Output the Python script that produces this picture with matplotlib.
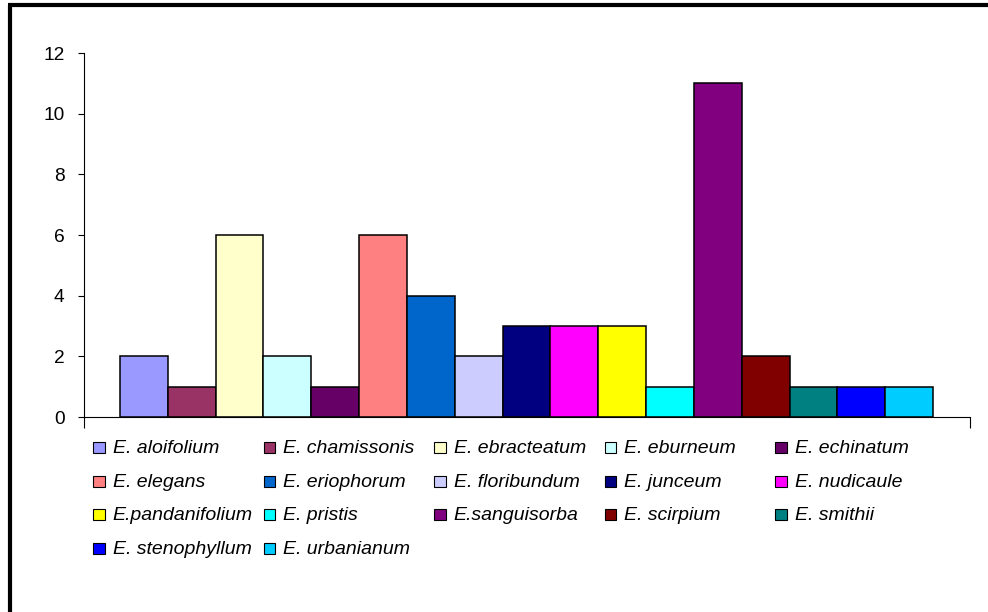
import matplotlib
matplotlib.use('Agg')
import matplotlib.pyplot as plt
from matplotlib.patches import Rectangle
import numpy as np

species = ['E. aloifolium', 'E. chamissonis', 'E. ebracteatum', 'E. eburneum', 'E. echinatum',
           'E. elegans', 'E. eriophorum', 'E. floribundum', 'E. junceum', 'E. nudicaule',
           'E.pandanifolium', 'E. pristis', 'E.sanguisorba', 'E. scirpium', 'E. smithii',
           'E. stenophyllum', 'E. urbanianum']
counts = [2, 1, 6, 2, 1, 6, 4, 2, 3, 3, 3, 1, 11, 2, 1, 1, 1]
colors = ['#9999FF', '#993366', '#FFFFCC', '#CCFFFF', '#660066', '#FF8080', '#0066CC',
          '#CCCCFF', '#000080', '#FF00FF', '#FFFF00', '#00FFFF', '#800080', '#800000',
          '#008080', '#0000FF', '#00CCFF']
y_ticks = [0, 2, 4, 6, 8, 10, 12]

W, H = 988, 612
plt.rcParams['font.family'] = 'Liberation Sans'


def fx(px):
    return px / W


def fy(py):
    return 1 - py / H


fig = plt.figure(figsize=(W / 100, H / 100), dpi=100)
ax = fig.add_axes([fx(84), fy(417), fx(970) - fx(84), fy(53) - fy(417)])

x = np.arange(len(counts))
ax.bar(x, counts, width=1.0, color=colors, edgecolor='black', linewidth=1.1)

ax.set_xlim(-0.5 - 0.75, len(counts) - 0.5 + 0.77)
ax.set_ylim(0, 12)
ax.set_yticks(y_ticks)
ax.set_xticks(ax.get_xlim())
ax.set_xticklabels([])
ax.tick_params(axis='x', length=8, width=0.8, direction='out')
ax.tick_params(axis='y', length=4.5, width=0.8, direction='out', pad=9.5, labelsize=13.8)
for s in ['top', 'right']:
    ax.spines[s].set_visible(False)
for s in ['left', 'bottom']:
    ax.spines[s].set_linewidth(0.8)

# legend, uniform column widths like the excel original
for i, (name, c) in enumerate(zip(species, colors)):
    row, col = divmod(i, 5)
    mx = 93 + col * 170.5
    my = 447.5 + row * 33.5
    fig.patches.append(Rectangle((fx(mx), fy(my + 5.5)), fx(11.5), fy(0) - fy(11),
                                 transform=fig.transFigure, facecolor=c,
                                 edgecolor='black', linewidth=0.8))
    fig.text(fx(mx + 19.5), fy(my + 5.8), name, fontsize=14, style='italic',
             ha='left', va='baseline')

# outer frame (only top and left visible in the original crop)
fig.add_artist(plt.Line2D([fx(10), fx(10)], [fy(5), 0], transform=fig.transFigure,
                          color='black', linewidth=3, solid_capstyle='butt'))
fig.add_artist(plt.Line2D([fx(8), 1], [fy(5), fy(5)], transform=fig.transFigure,
                          color='black', linewidth=3, solid_capstyle='butt'))

fig.savefig('out.png', dpi=100)
